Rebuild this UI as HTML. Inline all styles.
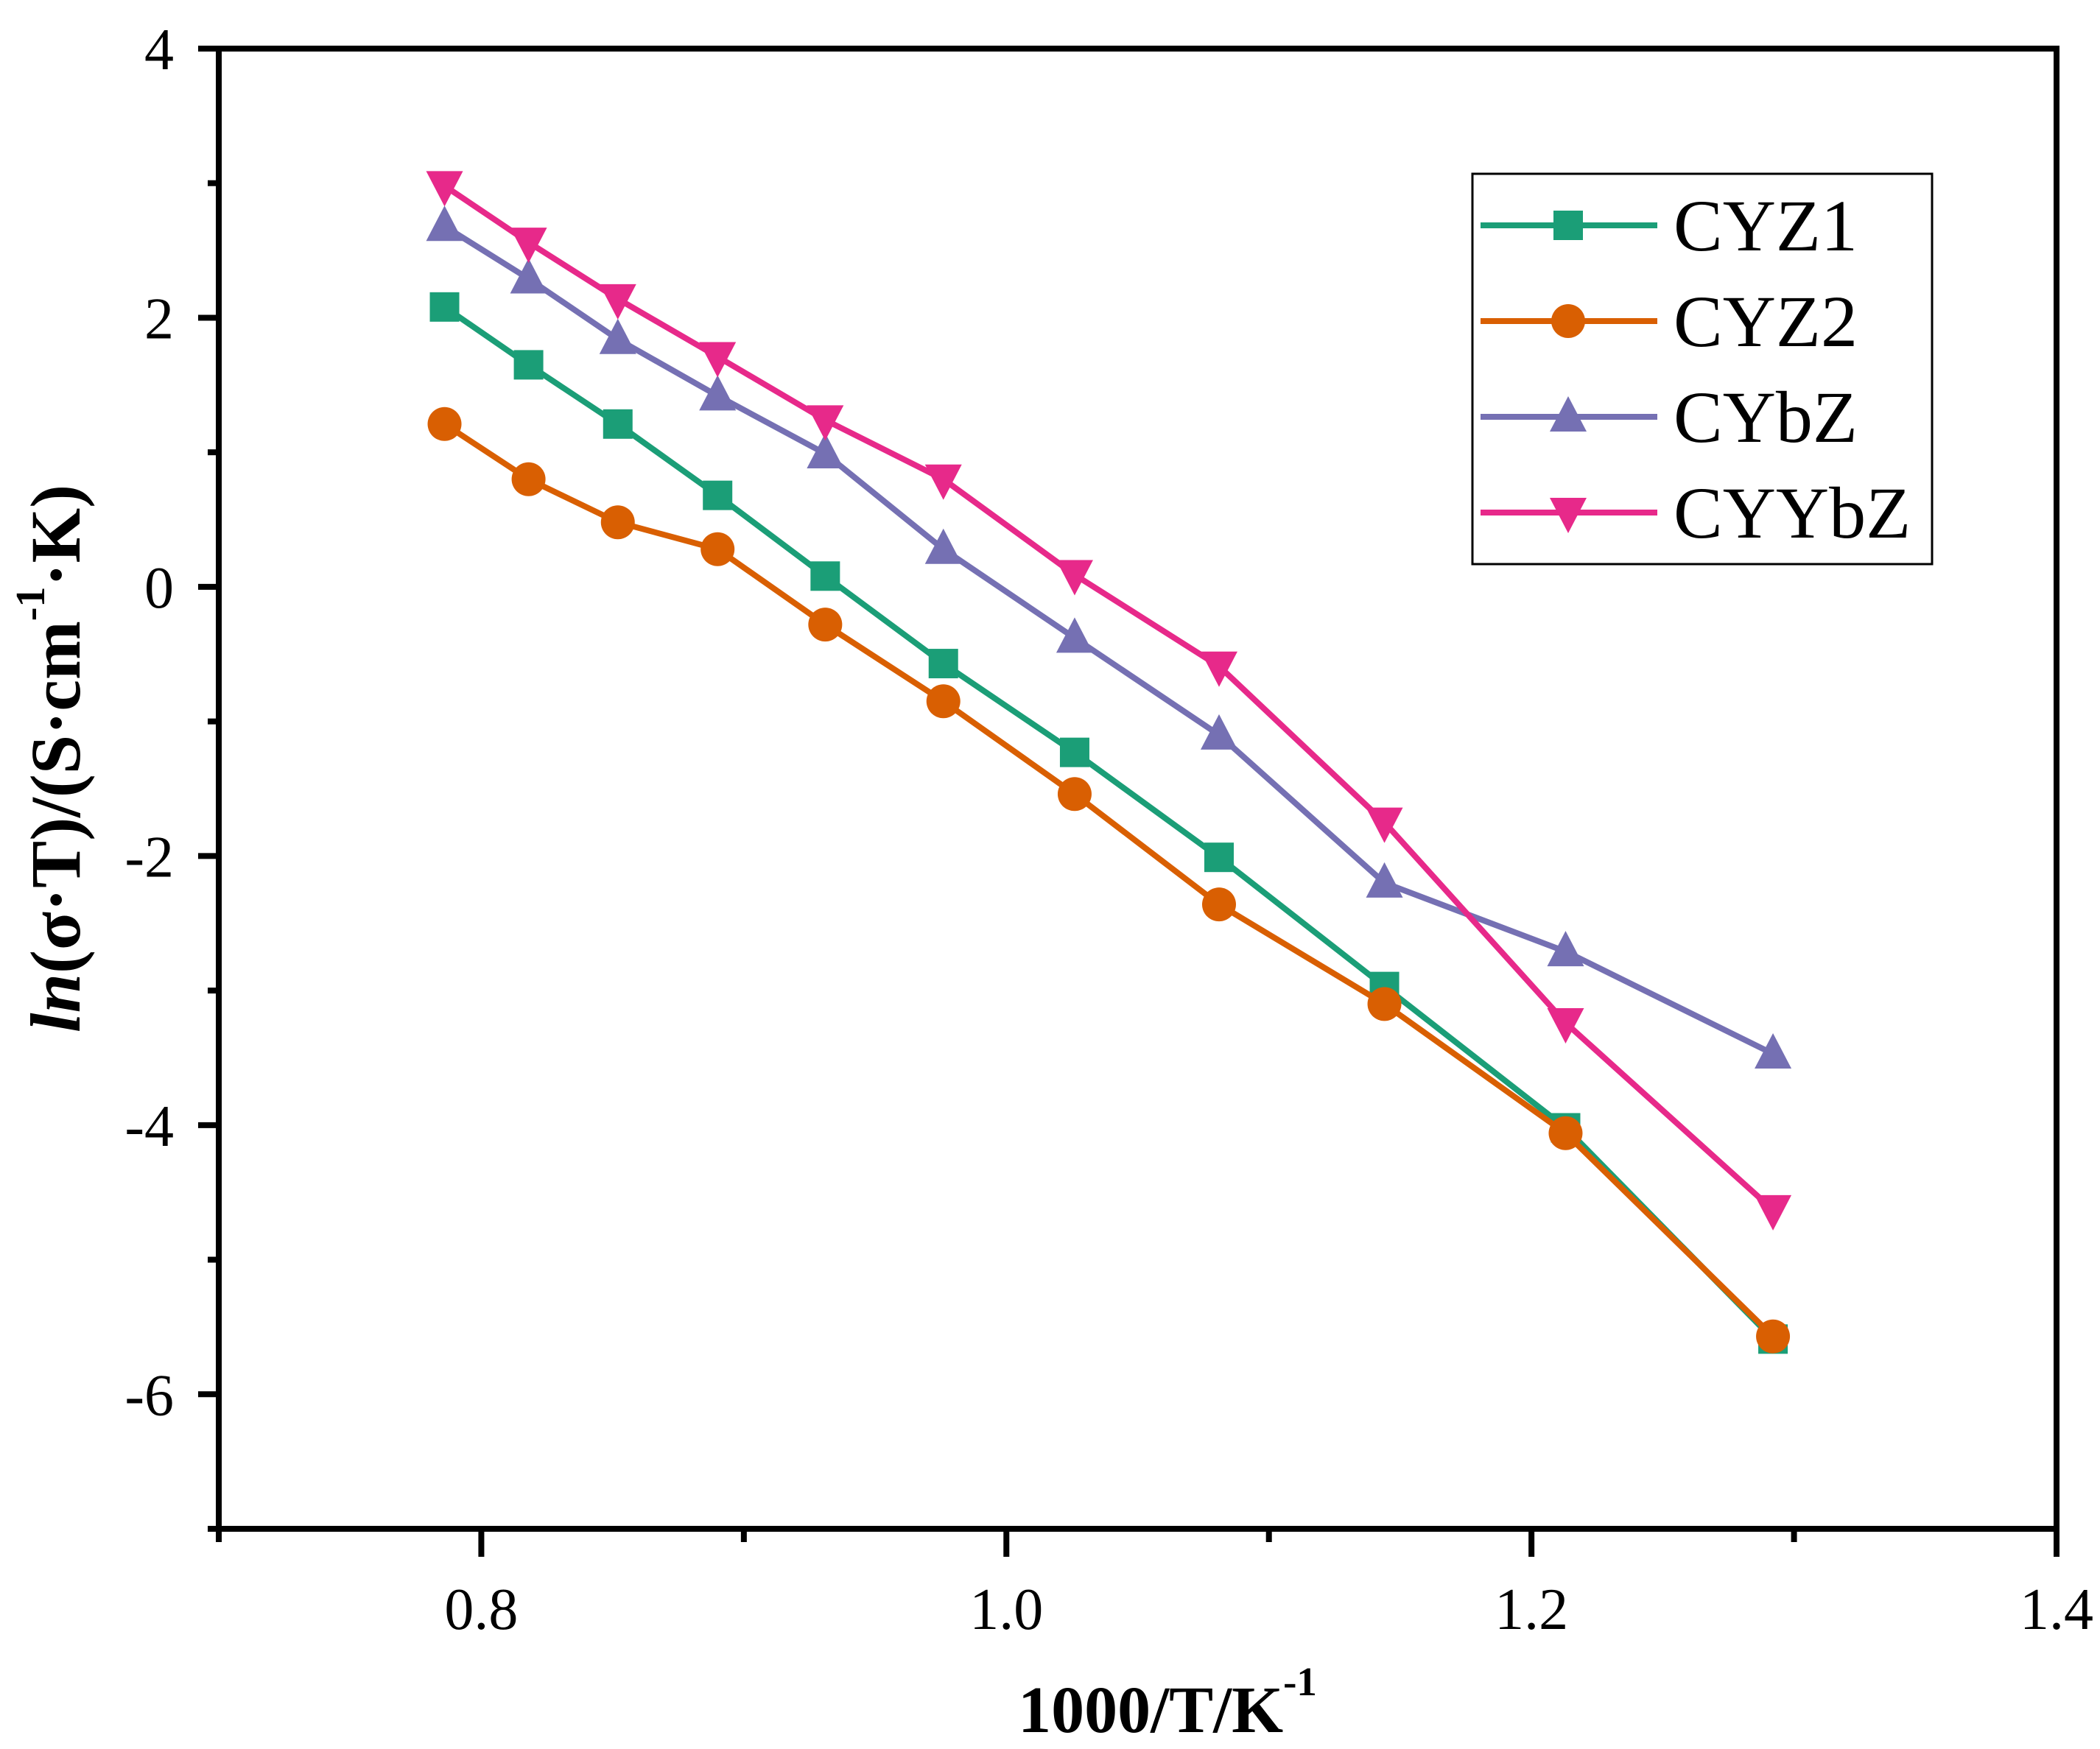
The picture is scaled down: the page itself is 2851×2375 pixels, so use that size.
<!DOCTYPE html>
<html><head><meta charset="utf-8"><style>
body{margin:0;background:#fff}
svg{display:block;font-family:"Liberation Serif",serif}
</style></head><body>
<svg id="chart" width="2851" height="2375" viewBox="0 0 2851 2375" xmlns="http://www.w3.org/2000/svg">
<g id="plot"></g>
<g id="axes"></g>
<text x="1585" y="2352" font-size="90" font-weight="bold" text-anchor="middle">1000/T/K<tspan font-size="55" dy="-50">-1</tspan></text>
<text transform="translate(108,1030) rotate(-90)" font-size="96" font-weight="bold" text-anchor="middle"><tspan font-style="italic">ln</tspan>(σ·T)/(S·cm<tspan font-size="56" dy="-48">-1</tspan><tspan dy="48">·K)</tspan></text>
<g id="legend">
<rect x="1999" y="236" width="624" height="530" fill="#fff" stroke="#000" stroke-width="3"/>
</g>
</svg>
<script>
const xVals=[0.786,0.818,0.852,0.890,0.931,0.976,1.026,1.081,1.144,1.213,1.292];
const cyz1=[2.08,1.65,1.21,0.68,0.08,-0.57,-1.23,-2.01,-2.97,-4.02,-5.59];
const cyz2=[1.21,0.80,0.48,0.28,-0.28,-0.85,-1.54,-2.36,-3.10,-4.06,-5.57];
const cybz=[2.68,2.29,1.84,1.42,0.99,0.28,-0.38,-1.10,-2.20,-2.71,-3.47];
const cyybz=[2.98,2.56,2.14,1.71,1.24,0.80,0.09,-0.59,-1.75,-3.24,-4.63];
const seriesNames=["CYZ1","CYZ2","CYbZ","CYYbZ"];
const xTicks=[0.8,1.0,1.2,1.4];
const yTicks=[4,2,0,-2,-4,-6];

const NS="http://www.w3.org/2000/svg";
const L=297,R=2792,T=66,B=2076,X0=0.7,X1=1.4,Y0=-7,Y1=4;
const sx=v=>L+(v-X0)/(X1-X0)*(R-L);
const sy=v=>B-(v-Y0)/(Y1-Y0)*(B-T);
function mk(tag,attrs,parent){const e=document.createElementNS(NS,tag);for(const k in attrs)e.setAttribute(k,attrs[k]);parent.appendChild(e);return e;}
const plot=document.getElementById('plot'),axes=document.getElementById('axes'),legend=document.getElementById('legend');
const colors=["#1b9e77","#d95f02","#7570b3","#e7298a"];
const data=[cyz1,cyz2,cybz,cyybz];
const shapes=["square","circle","up","down"];
function marker(shape,x,y,c,parent){
  let e;
  if(shape==="square"){e=mk('rect',{x:x-20,y:y-20,width:40,height:40,fill:c},parent);}
  else if(shape==="circle"){e=mk('circle',{cx:x,cy:y,r:23,fill:c},parent);}
  else if(shape==="up"){e=mk('polygon',{points:`${x},${y-28} ${x-25},${y+20} ${x+25},${y+20}`,fill:c},parent);}
  else {e=mk('polygon',{points:`${x},${y+28} ${x-25},${y-20} ${x+25},${y-20}`,fill:c},parent);}
  return e;
}
data.forEach((ys,si)=>{
  const g=mk('g',{},plot);
  
  
  const pts=ys.map((v,i)=>sx(xVals[i])+','+sy(v)).join(' ');
  const pl=mk('polyline',{points:pts,fill:'none',stroke:colors[si],'stroke-width':8,'stroke-linejoin':'round'},g);
  
  
  ys.forEach((v,i)=>{
    const m=marker(shapes[si],sx(xVals[i]),sy(v),colors[si],g);
    
    
  });
  const ly=306+si*130;
  const ll=mk('line',{x1:2010,x2:2250,y1:ly,y2:ly,stroke:colors[si],'stroke-width':8},legend);
  
  
  const lm=marker(shapes[si],2129,ly,colors[si],legend);
  
  
  const lt=mk('text',{x:2272,y:ly+34,'font-size':100},legend);
  lt.textContent=seriesNames[si];
  
  
});
const fr=mk('rect',{x:L,y:T,width:R-L,height:B-T,fill:'none',stroke:'#000','stroke-width':8},axes);


for(let v=-7;v<=4;v++){
  const major=yTicks.includes(v);
  const t=mk('line',{x1:L-(major?28:15),x2:L,y1:sy(v),y2:sy(v),stroke:'#000','stroke-width':8},axes);
  
  
}
yTicks.forEach(v=>{
  const t=mk('text',{x:236,y:sy(v)+28,'font-size':80,'text-anchor':'end'},axes);
  t.textContent=String(v);
  
  
});
for(let k=7;k<=14;k++){
  const v=k/10,major=k%2===0;
  const t=mk('line',{x1:sx(v),x2:sx(v),y1:B,y2:B+(major?38:18),stroke:'#000','stroke-width':8},axes);
  
  
}
xTicks.forEach(v=>{
  const t=mk('text',{x:sx(v),y:B+136,'font-size':80,'text-anchor':'middle'},axes);
  t.textContent=v.toFixed(1);
  
  
});
</script>
</body></html>
